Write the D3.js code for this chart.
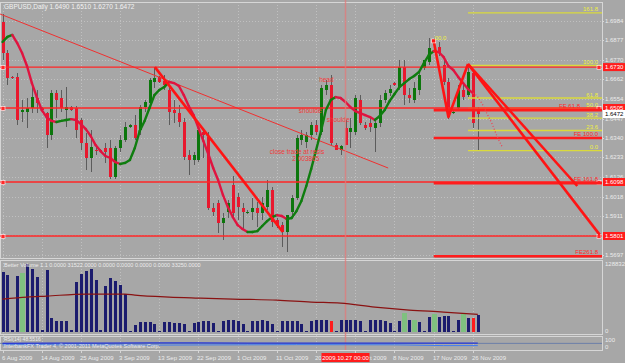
<!DOCTYPE html>
<html>
<head>
<meta charset="utf-8">
<script src="https://cdn.jsdelivr.net/npm/d3@7"></script>
<style>
  html, body { margin: 0; padding: 0; background: #a9a9a9; }
  svg { display: block; font-family: "Liberation Sans", Arial, sans-serif; }
</style>
</head>
<body>
<div id="chart"></div>
<script>
// GBPUSD daily, 6 Aug 2009 .. 27 Nov 2009 (bar index 0..97, Sunday bars included)

const open = [1.6978,1.6807,1.6676,1.6676,1.6483,1.6483,1.6505,1.6560,1.6505,1.6477,
  1.6356,1.6587,1.6560,1.6494,1.6510,1.6505,1.6439,1.6312,1.6230,1.6274,
  1.6274,1.6285,1.6285,1.6125,1.6285,1.6329,1.6400,1.6411,1.6384,1.6510,
  1.6532,1.6648,1.6676,1.6653,1.6604,1.6494,1.6477,1.6428,1.6246,1.6219,
  1.6219,1.6373,1.6345,1.5955,1.5982,1.5872,1.5933,1.6081,1.6015,1.5955,
  1.5933,1.5933,1.5955,1.5927,1.5960,1.6054,1.5889,1.5862,1.5823,1.5933,
  1.6010,1.6329,1.6318,1.6356,1.6411,1.6373,1.6604,1.6631,1.6301,1.6274,
  1.6395,1.6373,1.6373,1.6549,1.6411,1.6422,1.6395,1.6422,1.6549,1.6587,
  1.6642,1.6620,1.6730,1.6576,1.6549,1.6604,1.6725,1.6758,1.6874,1.6840,
  1.6741,1.6648,1.6477,1.6505,1.6604,1.6576,1.6697,1.6490];
const high = [1.7022,1.6824,1.6681,1.6697,1.6549,1.6560,1.6642,1.6604,1.6510,1.6483,
  1.6604,1.6604,1.6604,1.6620,1.6516,1.6516,1.6450,1.6367,1.6384,1.6301,
  1.6279,1.6312,1.6329,1.6296,1.6356,1.6428,1.6417,1.6466,1.6521,1.6549,
  1.6670,1.6730,1.6681,1.6686,1.6631,1.6549,1.6521,1.6450,1.6274,1.6263,
  1.6400,1.6384,1.6373,1.5982,1.5999,1.5927,1.5999,1.6131,1.6038,1.5982,
  1.5944,1.6010,1.5988,1.6015,1.6109,1.6070,1.5900,1.5878,1.5900,1.6026,
  1.6356,1.6384,1.6373,1.6428,1.6439,1.6631,1.6659,1.6686,1.6312,1.6301,
  1.6439,1.6450,1.6576,1.6576,1.6428,1.6450,1.6450,1.6576,1.6604,1.6631,
  1.6648,1.6769,1.6769,1.6615,1.6648,1.6703,1.6769,1.6890,1.6890,1.6868,
  1.6769,1.6670,1.6488,1.6631,1.6631,1.6741,1.6714,1.6510];
const low = [1.6769,1.6631,1.6664,1.6411,1.6428,1.6395,1.6477,1.6477,1.6488,1.6285,
  1.6329,1.6450,1.6483,1.6400,1.6488,1.6340,1.6274,1.6164,1.6153,1.6246,
  1.6263,1.6203,1.6114,1.6114,1.6263,1.6318,1.6395,1.6329,1.6356,1.6483,
  1.6505,1.6615,1.6642,1.6604,1.6411,1.6422,1.6400,1.6219,1.6136,1.6192,
  1.6208,1.6230,1.5944,1.5911,1.5817,1.5779,1.5900,1.5900,1.5889,1.5834,
  1.5922,1.5889,1.5850,1.5889,1.5944,1.5850,1.5845,1.5741,1.5713,1.5916,
  1.5999,1.6301,1.6285,1.6329,1.6356,1.6356,1.6576,1.6301,1.6274,1.6246,
  1.6301,1.6285,1.6356,1.6411,1.6384,1.6373,1.6263,1.6400,1.6532,1.6571,
  1.6626,1.6604,1.6521,1.6532,1.6532,1.6576,1.6714,1.6741,1.6851,1.6791,
  1.6631,1.6444,1.6472,1.6494,1.6549,1.6565,1.6395,1.6270];
const close = [1.6807,1.6670,1.6670,1.6439,1.6494,1.6505,1.6565,1.6532,1.6494,1.6356,
  1.6587,1.6549,1.6505,1.6510,1.6494,1.6384,1.6312,1.6230,1.6290,1.6268,
  1.6268,1.6263,1.6125,1.6285,1.6329,1.6400,1.6411,1.6340,1.6510,1.6538,
  1.6659,1.6670,1.6648,1.6631,1.6483,1.6477,1.6428,1.6235,1.6219,1.6246,
  1.6384,1.6356,1.5955,1.5933,1.5872,1.5900,1.5982,1.5927,1.5960,1.5933,
  1.5935,1.5955,1.5927,1.5982,1.6054,1.5878,1.5856,1.5823,1.5916,1.6010,
  1.6340,1.6356,1.6356,1.6411,1.6373,1.6615,1.6631,1.6312,1.6274,1.6296,
  1.6301,1.6395,1.6560,1.6422,1.6395,1.6400,1.6422,1.6549,1.6587,1.6609,
  1.6631,1.6730,1.6576,1.6560,1.6615,1.6686,1.6769,1.6835,1.6862,1.6807,
  1.6648,1.6455,1.6483,1.6604,1.6565,1.6703,1.6422,1.6472];

// colour-switching moving average (green rising, red falling)
const ma = [1.6868,1.6896,1.6907,1.6862,1.6807,1.6736,1.6642,1.6565,1.6494,1.6455,
  1.6434,1.6428,1.6434,1.6439,1.6444,1.6439,1.6417,1.6389,1.6351,1.6301,
  1.6268,1.6241,1.6230,1.6208,1.6197,1.6203,1.6219,1.6285,1.6378,1.6434,
  1.6505,1.6576,1.6604,1.6620,1.6648,1.6642,1.6626,1.6576,1.6516,1.6466,
  1.6395,1.6323,1.6252,1.6175,1.6109,1.6026,1.5960,1.5905,1.5861,1.5839,
  1.5823,1.5823,1.5828,1.5856,1.5883,1.5905,1.5916,1.5911,1.5894,1.5900,
  1.5938,1.5994,1.6076,1.6170,1.6274,1.6378,1.6494,1.6549,1.6565,1.6560,
  1.6538,1.6510,1.6488,1.6477,1.6466,1.6455,1.6439,1.6461,1.6494,1.6543,
  1.6582,1.6620,1.6642,1.6664,1.6681,1.6703,1.6752,1.6796,1.6818,1.6813,
  1.6786,1.6736,1.6714,1.6676,1.6642,1.6609,1.6587];
const maProjBars = [96, 97, 98, 99, 100, 101, 102];
const maProj = [1.6587, 1.6565, 1.6522, 1.6467, 1.6412, 1.6345, 1.6291];

const volume = [113650,107920,3410,105870,111740,128832,119310,104180,3980,117450,
  26310,20870,21140,20560,3520,94780,109830,115460,119640,98470,
  3690,87150,102290,96580,88920,71640,2140,13480,18870,19240,
  18760,15310,1950,18940,19120,17230,16980,15140,2010,17060,
  19050,20890,20640,17150,1880,20710,22590,22840,20930,15260,
  2070,20880,21030,22710,20690,15240,1930,20810,21120,20560,
  20970,15180,2090,20740,22510,22680,22920,20840,1960,22650,
  22810,22740,22590,20820,2030,22780,22640,22510,20700,17080,
  1910,20960,35870,22710,22460,18930,2110,28420,34060,28310,
  30280,30150,1990,22730,34110,26480,26390,31522];
const volGreen = [4, 82, 84, 88, 94];
const volRed = [67, 96];
const volMaBars = [0, 5, 9, 17, 25, 27, 34, 40, 47, 56, 63, 69, 76, 83, 90, 97];
const volMa = [62370, 66150, 68040, 71820, 71820, 69930, 66150, 64260, 62370, 60480,
  56700, 54810, 47250, 41580, 37800, 33250];

// lower oscillator panel (0..100)
const oscBars = [0, 10, 20, 30, 40, 50, 60, 70, 80, 90, 97];
const oscMain = [58, 60, 62, 63, 64, 62, 60, 61, 62, 61, 60];
const oscSignal = [40, 40, 38, 36, 38, 40, 42, 41, 40, 30, 30];

const priceTicks = [1.6984, 1.6877, 1.6770, 1.6662, 1.6554, 1.6447, 1.6340,
  1.6233, 1.6126, 1.6018, 1.5911, 1.5804, 1.5697];
const dateBars = [0, 8, 16, 24, 32, 40, 48, 56, 64, 72, 80, 88, 96];
const dateLabels = ["6 Aug 2009", "14 Aug 2009", "25 Aug 2009", "3 Sep 2009", "13 Sep 2009",
  "22 Sep 2009", "1 Oct 2009", "11 Oct 2009", "20 Oct 2009", "29 Oct 2009",
  "8 Nov 2009", "17 Nov 2009", "26 Nov 2009"];

// drawn objects
const hLines = [1.6730, 1.6505, 1.6098, 1.5801];
const trendLine = [{i: -0.5, p: 1.7022}, {i: 78.7, p: 1.6175}];
const zigzags = [
  [{i: 31.1, p: 1.6730}, {i: 57.2, p: 1.5823}],
  [{i: 88, p: 1.6874}, {i: 91, p: 1.6455}, {i: 95, p: 1.6747}],
  [{i: 95, p: 1.6747}, {i: 121.9, p: 1.5807}],
  [{i: 95, p: 1.6747}, {i: 117.3, p: 1.6076}]
];
const fibLow = 1.6268, fibHigh = 1.6736, fibStart = 95;
const fibLevels = [0, 23.6, 38.2, 50, 61.8, 100, 161.8];
const feBase = 1.6742, feRange = 0.0402, feStart = 88;
const feLevels = [61.8, 100, 161.8, 261.8];
const feNames = ["FE 61.8", "FE 100.0", "FE 161.8", "FE261.8"];
const crossBar = 70, crossLabel = "2009.10.27 00:00";
const notes = [
  {i: 66.1, p: 1.6650, t: "head"},
  {i: 62.8, p: 1.6475, t: "shoulde"},
  {i: 68.5, p: 1.6428, t: "shoulde"},
  {i: 60.1, p: 1.6254, t: "close trade at resis"},
  {i: 61.9, p: 1.6212, t: "2 003865"}
];
const header = "GBPUSD,Daily  1.6490 1.6510 1.6270 1.6472";
const volHeader = "Better Volume 1.1 0.0000 31522.0000 0.0000 0.0000 0.0000 0.0000 33250.0000";

function make_chart(id) {
    const width = 625, height = 363;
    const plotR = 602;
    const mainTop = 2, mainBot = 258;
    const volTop = 260, volBot = 334;
    const oscTop = 336, oscBot = 350;

    const x = d3.scaleLinear().domain([0, 97]).range([2.5, 477.8]);
    const y = d3.scaleLinear().domain([1.5680, 1.7099]).range([258, 0]);
    const yv = d3.scaleLinear().domain([0, 128832]).range([332, 264]);
    const yo = d3.scaleLinear().domain([0, 100]).range([348, 340]);
    const px = i => Math.round(x(i));
    const ry = p => Math.round(y(p)) + 0.5;

    const svg = d3.select("#" + id).append("svg")
        .attr("width", width)
        .attr("height", height)
        .attr("viewBox", [0, 0, width, height]);

    svg.append("rect").attr("width", width).attr("height", height).attr("fill", "#a7a7a7");

    svg.append("defs").append("clipPath").attr("id", "clipMain")
        .append("rect").attr("x", 0).attr("y", mainTop).attr("width", plotR).attr("height", mainBot - mainTop);

    // grid
    const grid = svg.append("g")
        .attr("stroke", "#c0c0c0").attr("stroke-dasharray", "1,2")
        .attr("shape-rendering", "crispEdges");
    grid.selectAll(".gh").data(priceTicks).join("line").attr("class", "gh")
        .attr("x1", 0).attr("x2", plotR)
        .attr("y1", ry).attr("y2", ry);
    grid.selectAll(".gv").data(dateBars).join("line").attr("class", "gv")
        .attr("x1", d => px(d) + 0.5).attr("x2", d => px(d) + 0.5)
        .attr("y1", mainTop).attr("y2", oscBot);

    // panel frames
    const frame = svg.append("g").attr("fill", "none").attr("stroke", "#d6d6d6")
        .attr("shape-rendering", "crispEdges");
    [[mainTop, mainBot], [volTop, volBot], [oscTop, oscBot]].forEach(([a, b]) => {
        frame.append("rect").attr("x", 0.5).attr("y", a + 0.5)
            .attr("width", plotR - 0.5).attr("height", b - a);
    });

    const main = svg.append("g").attr("clip-path", "url(#clipMain)");
    const pline = d3.line().x(d => x(d.i)).y(d => y(d.p));

    // candles
    const bars = d3.range(open.length);
    const candles = main.append("g").attr("shape-rendering", "crispEdges");
    candles.selectAll(".wick").data(bars).join("line").attr("class", "wick")
        .attr("x1", i => px(i) + 0.5).attr("x2", i => px(i) + 0.5)
        .attr("y1", i => y(high[i])).attr("y2", i => y(low[i]))
        .attr("stroke", "#5c5c5c");
    candles.selectAll(".body").data(bars).join("rect").attr("class", "body")
        .attr("x", i => px(i) - 1)
        .attr("y", i => y(Math.max(open[i], close[i])))
        .attr("width", 3)
        .attr("height", i => Math.max(1, Math.abs(y(open[i]) - y(close[i]))))
        .attr("fill", i => close[i] >= open[i] ? "#0c760c" : "#e8182e");

    // thin trend line
    main.append("path").attr("d", pline(trendLine))
        .attr("fill", "none").attr("stroke", "#f03030").attr("stroke-width", 1);

    // fibonacci retracement (yellow)
    const fibP = d => fibLow + (fibHigh - fibLow) * d / 100;
    const fib = main.append("g");
    fib.selectAll(".fl").data(fibLevels).join("line").attr("class", "fl")
        .attr("x1", x(fibStart)).attr("x2", plotR)
        .attr("y1", d => y(fibP(d)) - 0.5).attr("y2", d => y(fibP(d)) - 0.5)
        .attr("stroke", "#dada3c").attr("stroke-width", 1.3);
    fib.selectAll(".ft").data(fibLevels).join("text").attr("class", "ft")
        .attr("x", plotR - 4)
        .attr("y", d => y(fibP(d)) - 2)
        .attr("text-anchor", "end").attr("font-size", 6).attr("fill", "#eeee40")
        .text(d => d.toFixed(1));

    // horizontal levels (thin red)
    const hl = main.append("g");
    hl.selectAll(".hline").data(hLines).join("line").attr("class", "hline")
        .attr("x1", 0).attr("x2", plotR)
        .attr("y1", d => y(d)).attr("y2", d => y(d))
        .attr("stroke", "#ff2626").attr("stroke-width", 1.4);
    hl.selectAll(".hbox").data(hLines).join("rect").attr("class", "hbox")
        .attr("x", 1).attr("y", d => Math.round(y(d)) - 1.5)
        .attr("width", 4).attr("height", 4)
        .attr("fill", "#ff2a2a").attr("stroke", "#ffffff").attr("stroke-width", 0.6);
    hl.selectAll(".hboxr").data(hLines).join("rect").attr("class", "hboxr")
        .attr("x", plotR - 5).attr("y", d => Math.round(y(d)) - 1.5)
        .attr("width", 4).attr("height", 4)
        .attr("fill", "#ff2a2a").attr("stroke", "#ffffff").attr("stroke-width", 0.6);

    // fibonacci expansion (thick red)
    const feP = d => feBase - feRange * d / 100;
    const fe = main.append("g");
    fe.selectAll(".el").data(feLevels).join("line").attr("class", "el")
        .attr("x1", x(feStart)).attr("x2", plotR)
        .attr("y1", d => y(feP(d))).attr("y2", d => y(feP(d)))
        .attr("stroke", "#ff1c1c").attr("stroke-width", 2.6);
    fe.selectAll(".et").data(feLevels).join("text").attr("class", "et")
        .attr("x", (d, k) => k === 0 ? plotR - 22 : plotR - 4)
        .attr("y", d => y(feP(d)) - 2.5)
        .attr("text-anchor", "end").attr("font-size", 6).attr("fill", "#ff2a2a")
        .text((d, k) => feNames[k]);

    // moving average segments
    const maSeg = d3.range(ma.length - 1);
    main.append("g").attr("fill", "none").attr("stroke-width", 2.4).attr("stroke-linecap", "round")
        .selectAll(".ma").data(maSeg).join("line").attr("class", "ma")
        .attr("x1", i => x(i)).attr("y1", i => y(ma[i]))
        .attr("x2", i => x(i + 1)).attr("y2", i => y(ma[i + 1]))
        .attr("stroke", i => ma[i + 1] >= ma[i] ? "#0f7d0f" : "#e01440");
    main.append("path")
        .attr("d", d3.line().x((d, k) => x(maProjBars[k])).y(d => y(d)).curve(d3.curveMonotoneX)(maProj))
        .attr("fill", "none").attr("stroke", "#f04050").attr("stroke-width", 1.3)
        .attr("stroke-dasharray", "1,2");

    // zigzag / trend channel
    main.append("g").attr("fill", "none").attr("stroke", "#ff1414").attr("stroke-width", 2.6)
        .attr("stroke-linejoin", "round")
        .selectAll(".zz").data(zigzags).join("path").attr("class", "zz")
        .attr("d", pline);
    main.append("rect")
        .attr("x", x(88) - 2).attr("y", y(1.6874) - 2).attr("width", 4).attr("height", 4)
        .attr("fill", "#ff1414").attr("stroke", "#ffffff").attr("stroke-width", 0.6);
    main.append("text").attr("x", x(88) + 1).attr("y", y(1.6874) - 1)
        .attr("font-size", 6).attr("fill", "#f0f040").text("00.0");

    // pattern notes
    main.selectAll(".note").data(notes).join("text").attr("class", "note")
        .attr("x", d => x(d.i)).attr("y", d => y(d.p))
        .attr("text-anchor", "middle").attr("font-size", 6.5).attr("fill", "#f03a3a")
        .text(d => d.t);

    // vertical crosshair line
    svg.append("line")
        .attr("x1", x(crossBar)).attr("x2", x(crossBar))
        .attr("y1", 0).attr("y2", oscBot)
        .attr("stroke", "#e27a7a").attr("stroke-opacity", 0.75).attr("stroke-width", 1.5);

    // header
    svg.append("text").attr("x", 4).attr("y", 9)
        .attr("font-size", 6.5).attr("fill", "#f2f2f2").text(header);

    // volume panel
    const vol = svg.append("g").attr("shape-rendering", "crispEdges");
    vol.selectAll(".vb").data(bars).join("rect").attr("class", "vb")
        .attr("x", i => volGreen.includes(i) ? px(i) - 2 : px(i) - 1)
        .attr("width", i => volGreen.includes(i) ? 5 : 3)
        .attr("y", i => yv(volume[i]))
        .attr("height", i => yv(0) - yv(volume[i]))
        .attr("fill", i => volGreen.includes(i) ? "#7fc07f" : volRed.includes(i) ? "#ff1c1c" : "#1c1c6e");
    svg.append("path")
        .attr("d", d3.line().x((d, k) => x(volMaBars[k])).y(d => yv(d)).curve(d3.curveMonotoneX)(volMa))
        .attr("fill", "none").attr("stroke", "#8a1212").attr("stroke-width", 1.2);
    svg.append("text").attr("x", 4).attr("y", 267)
        .attr("font-size", 5.5).attr("fill", "#ececec").text(volHeader);

    // oscillator panel
    const oline = d3.line().x((d, k) => x(oscBars[k])).y(d => yo(d));
    svg.append("line").attr("x1", 0).attr("x2", plotR)
        .attr("y1", yo(oscMain[0])).attr("y2", yo(oscMain[0]))
        .attr("stroke", "#6b7fa8").attr("stroke-width", 1);
    svg.append("path").attr("d", oline(oscMain))
        .attr("fill", "none").attr("stroke", "#2a3ad8").attr("stroke-width", 1.2);
    svg.append("path").attr("d", oline(oscSignal))
        .attr("fill", "none").attr("stroke", "#3f7cf0").attr("stroke-width", 1);
    svg.append("text").attr("x", 4).attr("y", 341)
        .attr("font-size", 5).attr("fill", "#ececec").text("RSI(14) 48.5516");
    svg.append("text").attr("x", 4).attr("y", 348)
        .attr("font-size", 5.5).attr("fill", "#ececec")
        .text("InterbankFX Trader 4, \u00a9 2001-2011 MetaQuotes Software Corp.");

    // right price axis
    const axis = svg.append("g").attr("font-size", 6).attr("fill", "#ececec");
    axis.selectAll(".pt").data(priceTicks).join("text").attr("class", "pt")
        .attr("x", 605).attr("y", d => y(d) + 2).text(d => d.toFixed(4));
    axis.append("text").attr("x", 605).attr("y", 266).text("128832");
    axis.append("text").attr("x", 605).attr("y", 333).text("0");
    axis.append("text").attr("x", 605).attr("y", 342).text("100");
    axis.append("text").attr("x", 605).attr("y", 349).text("0");
    svg.append("g").attr("stroke", "#d6d6d6").attr("shape-rendering", "crispEdges")
        .selectAll(".ptk").data(priceTicks).join("line").attr("class", "ptk")
        .attr("x1", plotR).attr("x2", plotR + 2)
        .attr("y1", ry).attr("y2", ry);

    // price boxes
    const boxes = svg.append("g");
    hLines.forEach(p => {
        boxes.append("rect").attr("x", 603).attr("y", y(p) - 4).attr("width", 22).attr("height", 8)
            .attr("fill", "#ff1c1c");
        boxes.append("text").attr("x", 605).attr("y", y(p) + 2).attr("font-size", 6)
            .attr("fill", "#ffffff").text(p.toFixed(4));
    });
    boxes.append("rect").attr("x", 603).attr("y", y(close[97]) - 4).attr("width", 22).attr("height", 8)
        .attr("fill", "#ffffff");
    boxes.append("text").attr("x", 605).attr("y", y(close[97]) + 2).attr("font-size", 6)
        .attr("fill", "#000000").text(close[97].toFixed(4));

    // date axis; the crosshair date box covers part of the label under it
    const dax = svg.append("g").attr("font-size", 6).attr("fill", "#ececec");
    dax.selectAll(".dl").data(dateBars).join("text").attr("class", "dl")
        .attr("x", d => px(d) - 1).attr("y", 360)
        .text((d, k) => dateLabels[k]);
    svg.append("g").attr("stroke", "#d6d6d6").attr("shape-rendering", "crispEdges")
        .selectAll(".dtk").data(dateBars).join("line").attr("class", "dtk")
        .attr("x1", d => px(d) + 0.5).attr("x2", d => px(d) + 0.5)
        .attr("y1", oscBot).attr("y2", oscBot + 3);
    svg.append("rect").attr("x", x(crossBar) - 24).attr("y", 353).attr("width", 48).attr("height", 9)
        .attr("fill", "#ff1c1c");
    svg.append("text").attr("x", x(crossBar)).attr("y", 360).attr("text-anchor", "middle")
        .attr("font-size", 6).attr("fill", "#ffffff").text(crossLabel);
}

make_chart("chart");
</script>
</body>
</html>
